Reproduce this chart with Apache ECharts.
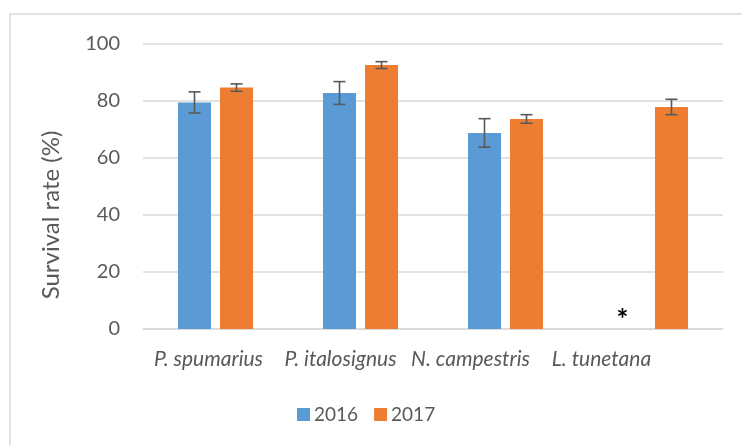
<!DOCTYPE html>
<html>
<head>
<meta charset="utf-8">
<script src="https://cdn.jsdelivr.net/npm/echarts@6/dist/echarts.min.js"></script>
<style>html,body{margin:0;padding:0;background:#fff}#c{width:742px;height:445px}</style>
</head>
<body>
<div id="c"></div>
<script>
var categories = ['P. spumarius', 'P. italosignus', 'N. campestris', 'L. tunetana'];
var seriesNames = ['2016', '2017'];
var values2016 = [79.5, 82.8, 68.8, 0];
var values2017 = [84.7, 92.6, 73.7, 77.9];
var err2016 = [3.7, 4.0, 5.0, null];
var err2017 = [1.3, 1.2, 1.5, 2.7];
var yTicks = [0, 20, 40, 60, 80, 100];
var missingMark = '*';

var FONT = 'Lato';
var TXT = '#595959';
var BAR_W = 33, BAR_GAP = 9;
// leftward shift of each category label, as drawn in the reference
var labelShift = [7, 20, 35, 49];

var chart = echarts.init(document.getElementById('c'), null, {renderer: 'canvas'});

function errorSeries(vals, errs, side) {
  var data = [];
  for (var i = 0; i < vals.length; i++) {
    if (errs[i] != null) data.push([i, vals[i] - errs[i], vals[i] + errs[i]]);
  }
  return {
    type: 'custom',
    z: 10,
    silent: true,
    data: data,
    renderItem: function (params, api) {
      var off = side * (BAR_W + BAR_GAP) / 2;
      var lo = api.coord([api.value(0), api.value(1)]);
      var hi = api.coord([api.value(0), api.value(2)]);
      var x = lo[0] + off;
      var cap = 6;
      var st = {stroke: TXT, lineWidth: 1.6};
      return {
        type: 'group',
        children: [
          {type: 'line', shape: {x1: x, y1: lo[1], x2: x, y2: hi[1]}, style: st},
          {type: 'line', shape: {x1: x - cap, y1: lo[1], x2: x + cap, y2: lo[1]}, style: st},
          {type: 'line', shape: {x1: x - cap, y1: hi[1], x2: x + cap, y2: hi[1]}, style: st}
        ]
      };
    }
  };
}

var rich = {};
labelShift.forEach(function (s, i) {
  rich['c' + i] = {color: TXT, fontSize: 21, fontStyle: 'italic', fontFamily: FONT, padding: [0, 2 * s, 0, 0]};
});

var option = {
  backgroundColor: '#fff',
  animation: false,
  textStyle: {fontFamily: FONT},
  grid: {left: 143, right: 19, top: 44, bottom: 116},
  legend: {
    data: seriesNames,
    bottom: 16,
    left: 292,
    itemWidth: 13,
    itemHeight: 13,
    itemGap: 16,
    icon: 'rect',
    textStyle: {color: TXT, fontSize: 19, fontFamily: FONT, padding: [0, 0, 0, -1]}
  },
  graphic: [
    {type: 'polyline', shape: {points: [[10, 460], [10, 14], [760, 14]]}, style: {stroke: '#d9d9d9', lineWidth: 1.5, fill: null}},
    {type: 'text', x: 51, y: 215, rotation: Math.PI / 2,
     style: {text: 'Survival rate (%)', fill: TXT, font: '24px ' + FONT, align: 'center', verticalAlign: 'middle'}}
  ],
  xAxis: {
    type: 'category',
    data: categories,
    axisLine: {lineStyle: {color: '#d9d9d9', width: 1.5}},
    axisTick: {show: false},
    axisLabel: {color: TXT, fontSize: 21, fontStyle: 'italic', fontFamily: FONT, margin: 20, interval: 0,
      formatter: function (v, i) { return '{c' + i + '|' + v + '}'; },
      rich: rich}
  },
  yAxis: {
    type: 'value',
    min: 0, max: 100, interval: 20,
    axisLine: {show: false},
    axisTick: {show: false},
    splitLine: {lineStyle: {color: '#d9d9d9', width: 1.5}},
    axisLabel: {color: TXT, fontSize: 20, fontFamily: FONT, margin: 23,
      formatter: function (v) { return yTicks.indexOf(v) >= 0 ? String(v) : ''; }}
  },
  series: [
    {
      name: seriesNames[0], type: 'bar', barWidth: BAR_W, barGap: (BAR_GAP / BAR_W * 100) + '%',
      itemStyle: {color: '#5B9BD5'},
      data: values2016.map(function (v, i) {
        if (err2016[i] == null) {
          return {value: v, label: {show: true, position: 'top', formatter: missingMark, color: '#000', fontSize: 28, fontWeight: 'bold', distance: -2, offset: [-7, 3]}};
        }
        return v;
      })
    },
    {
      name: seriesNames[1], type: 'bar', barWidth: BAR_W,
      itemStyle: {color: '#ED7D31'},
      data: values2017
    },
    errorSeries(values2016, err2016, -1),
    errorSeries(values2017, err2017, 1)
  ]
};
chart.setOption(option);
</script>
</body>
</html>
